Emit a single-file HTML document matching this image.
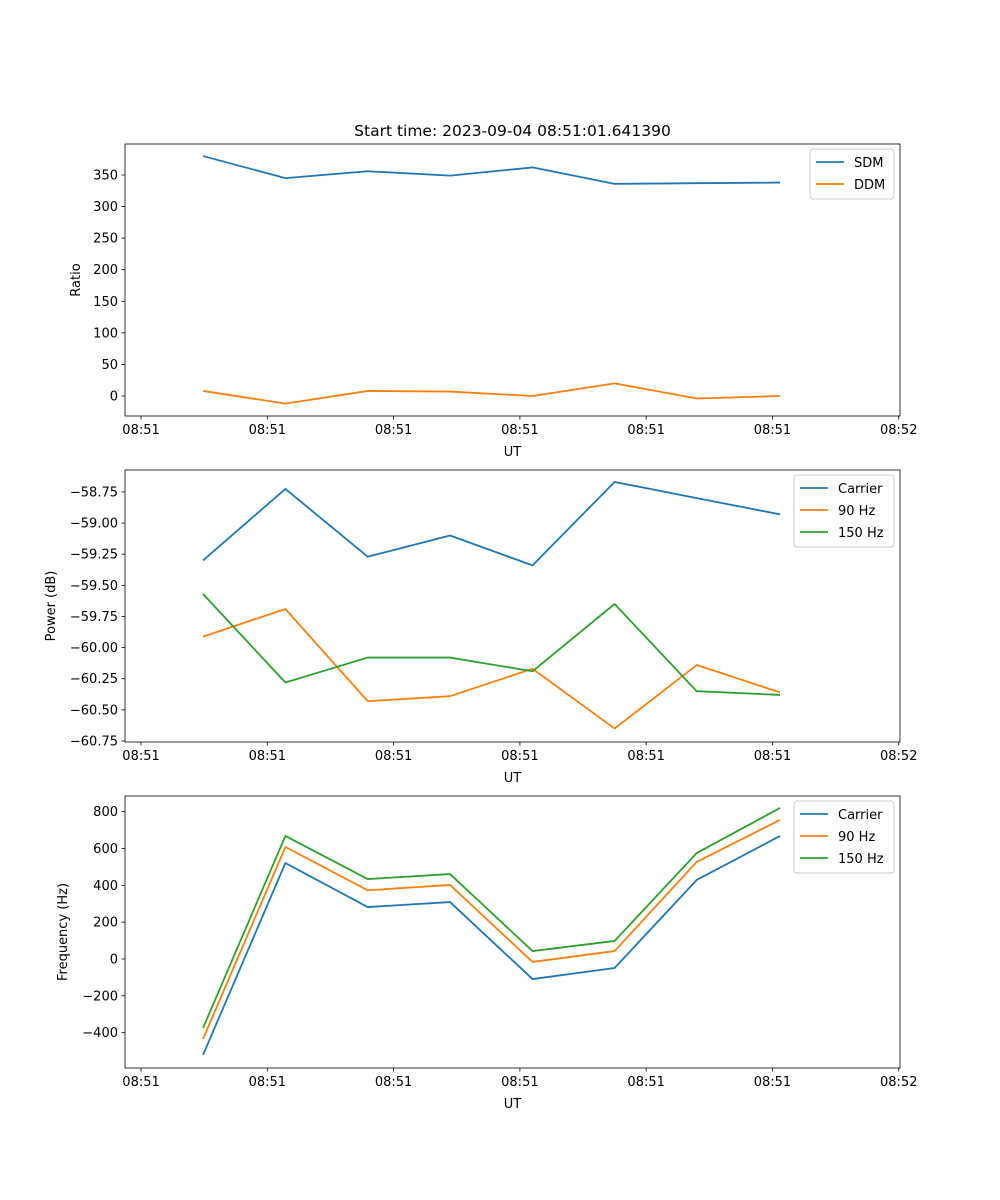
<!DOCTYPE html>
<html><head><meta charset="utf-8"><style>
body{margin:0;background:#fff}
svg{display:block;font-family:"DejaVu Sans","Liberation Sans",sans-serif}
</style></head><body>
<svg id="fig" width="1000" height="1200" xmlns="http://www.w3.org/2000/svg">
<text x="512.5" y="136" font-size="15.5" text-anchor="middle">Start time: 2023-09-04 08:51:01.641390</text>
</svg>
<script>
const xPos = [0.491,1.143,1.795,2.447,3.10,3.75,4.40,5.06];
const xTicks = [0,1,2,3,4,5,6];
const xTickLabels = ["08:51","08:51","08:51","08:51","08:51","08:51","08:52"];
const sdm = [380,345,356,349,362,336,337,338];
const ddm = [8,-12,8,7,0,20,-4,0];
const pwCarrier = [-59.30,-58.726,-59.27,-59.10,-59.34,-58.67,-58.80,-58.93];
const pw90 = [-59.912,-59.69,-60.43,-60.39,-60.17,-60.65,-60.14,-60.36];
const pw150 = [-59.57,-60.28,-60.08,-60.08,-60.19,-59.65,-60.35,-60.38];
const frCarrier = [-521,521,282,309,-109,-49,429,668];
const fr90 = [-434,608,373,402,-16,43,527,755];
const fr150 = [-375,668,434,461,43,98,575,820];
const ticks1 = [0,50,100,150,200,250,300,350];
const ticks2 = [-58.75,-59.00,-59.25,-59.50,-59.75,-60.00,-60.25,-60.50,-60.75];
const ticks3 = [-400,-200,0,200,400,600,800];

const NS="http://www.w3.org/2000/svg";
const svg=document.getElementById('fig');
const C=['#1f77b4','#ff7f0e','#2ca02c'];
function mk(tag,attrs,parent){const e=document.createElementNS(NS,tag);for(const k in attrs)e.setAttribute(k,attrs[k]);(parent||svg).appendChild(e);return e;}
const L=125,R=900,xmin=-0.127,xmax=6.01;
const xs=v=>L+(v-xmin)/(xmax-xmin)*(R-L);

function panel(name,top,bot,ymin,ymax,yt,fmt,ylabel,series,labels,legW){
  const g=mk('g',{});
  
  
  const ys=v=>bot-(v-ymin)/(ymax-ymin)*(bot-top);
  series.forEach((s,i)=>{
    const p=mk('polyline',{points:s.map((v,j)=>xs(xPos[j])+','+ys(v)).join(' '),fill:'none',stroke:C[i],'stroke-width':1.8,'stroke-linejoin':'round'},g);
    
    
  });
  const fr=mk('rect',{x:L,y:top,width:R-L,height:bot-top,fill:'none',stroke:'#000','stroke-width':0.8},g);
  
  
  xTicks.forEach((t,i)=>{
    const x=xs(t);
    mk('line',{x1:x,x2:x,y1:bot,y2:bot+3.5,stroke:'#000','stroke-width':0.8},g);
    const tx=mk('text',{x:x,y:bot+18,'font-size':13,'text-anchor':'middle'},g);
    tx.textContent=xTickLabels[i];
    
    
  });
  const xl=mk('text',{x:(L+R)/2,y:bot+40,'font-size':13,'text-anchor':'middle'},g);
  xl.textContent='UT';
  
  
  yt.forEach(t=>{
    const y=ys(t);
    mk('line',{x1:L-3.5,x2:L,y1:y,y2:y,stroke:'#000','stroke-width':0.8},g);
    const tx=mk('text',{x:L-7,y:y+4.5,'font-size':13,'text-anchor':'end'},g);
    tx.textContent=fmt(t);
    
    
  });
  const yl=mk('text',{x:0,y:0,'font-size':13,'text-anchor':'middle',transform:`translate(${ylabel[1]},${(top+bot)/2}) rotate(-90)`},g);
  yl.textContent=ylabel[0];
  
  
  const lg=mk('g',{},g);
  
  
  const lx=R-6-legW,ly=top+5,lh=labels.length*22+6;
  mk('rect',{x:lx,y:ly,width:legW,height:lh,rx:3,fill:'#fff','fill-opacity':0.8,stroke:'#ccc'},lg);
  labels.forEach((lab,i)=>{
    const yy=ly+13+i*22;
    mk('line',{x1:lx+6,x2:lx+34,y1:yy,y2:yy,stroke:C[i],'stroke-width':1.8},lg);
    const t=mk('text',{x:lx+44,y:yy+5,'font-size':13},lg);
    t.textContent=lab;
    
    
  });
}
const y0=396,k1=221/350;
panel('ratio',144,416,-(416-y0)/k1,(y0-144)/k1,ticks1,v=>String(v),['Ratio',80],[sdm,ddm],['SDM','DDM'],84);
panel('power',470,742,-60.758,-58.574,ticks2,v=>v.toFixed(2).replace('-','\u2212'),['Power (dB)',55],[pwCarrier,pw90,pw150],['Carrier','90 Hz','150 Hz'],100);
panel('frequency',796,1068,-592,885,ticks3,v=>String(v).replace('-','\u2212'),['Frequency (Hz)',67],[frCarrier,fr90,fr150],['Carrier','90 Hz','150 Hz'],100);
</script>
</body></html>
